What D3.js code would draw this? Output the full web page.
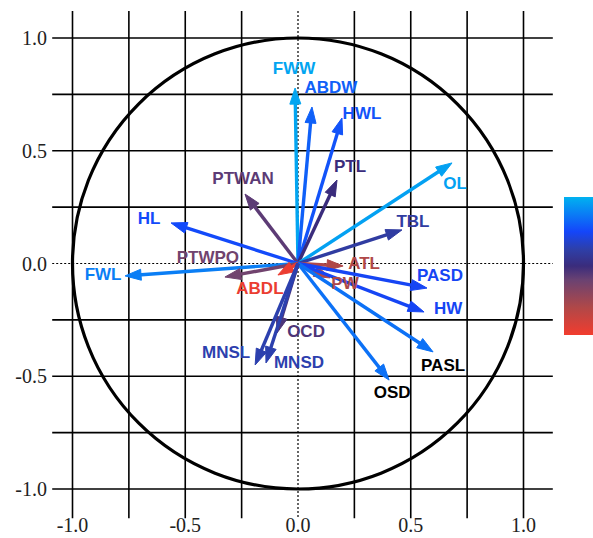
<!DOCTYPE html>
<html>
<head>
<meta charset="utf-8">
<script src="https://cdn.jsdelivr.net/npm/d3@7"></script>
<style>
  html, body { margin: 0; padding: 0; background: #fff; }
  svg { display: block; }
</style>
</head>
<body>
<svg id="chart" width="593" height="538"></svg>
<script>
// ---- data ----
const variables = ["FWW","ABDW","HWL","PTL","OL","TBL","PTWAN","HL","FWL","PTWPO",
                   "ABDL","ATL","PW","PASD","HW","PASL","OSD","OCD","MNSL","MNSD"];
const dim1 = [-0.013, 0.062, 0.195, 0.173, 0.683, 0.461, -0.235, -0.563, -0.767, -0.324,
              -0.089, 0.200, 0.142, 0.572, 0.559, 0.599, 0.404, -0.093, -0.190, -0.142];
const dim2 = [0.778, 0.694, 0.645, 0.370, 0.446, 0.149, 0.308, 0.180, -0.055, -0.060,
              -0.051, -0.011, -0.064, -0.109, -0.215, -0.392, -0.517, -0.308, -0.450, -0.441];
// colour value (position on the colour bar, 0 = bottom/red, 1 = top/cyan)
const colorValue = [0.97, 0.81, 0.78, 0.50, 0.96, 0.60, 0.43, 0.76, 0.88, 0.38,
                    0.02, 0.20, 0.21, 0.74, 0.74, 0.85, 0.85, 0.46, 0.63, 0.63];
const tickValues = [-1.0, -0.5, 0.0, 0.5, 1.0];
const tickLabels = ["-1.0", "-0.5", "0.0", "0.5", "1.0"];
const gridValues = [-1, -0.75, -0.5, -0.25, 0.25, 0.5, 0.75, 1];

// ---- layout (label offsets from arrow tip, in px) ----
const labelOffset = {
  FWW:[-1,-20], ABDW:[19,-20], HWL:[20,-5], PTL:[13,-14], OL:[3,20], TBL:[11,-9],
  PTWAN:[-2,-16], HL:[-22,-5], FWL:[-22,-2], PTWPO:[-17,-20], ABDL:[-18,13],
  ATL:[21,-3], PW:[15,5], PASD:[13,-13], HW:[24,-4], PASL:[10,13], OSD:[3,12],
  OCD:[29,-2], MNSL:[-29,-13], MNSD:[33,-1]
};
const blackLabels = new Set(["PASL","OSD"]);

const svg = d3.select("#chart");
const x = d3.scaleLinear().domain([-1, 1]).range([72.5, 523.5]);
const y = d3.scaleLinear().domain([-1, 1]).range([489, 38]);
const xExt = [-1.09, 1.13], yExt = [-1.13, 1.12];

const stopPos = [0, 0.2, 0.4, 0.5, 0.62, 0.75, 1];
const stops = ["#F23C2E", "#B04848", "#6A4272", "#3A2C7C", "#2E3FA8", "#1446FA", "#00B2F0"];
const color = d3.scaleLinear().domain(stopPos).range(stops)
  .interpolate(d3.interpolateRgb);

// ---- grid ----
const g = svg.append("g");
g.selectAll("line.v").data(gridValues).join("line")
  .attr("x1", d => x(d)).attr("x2", d => x(d))
  .attr("y1", y(yExt[1])).attr("y2", y(yExt[0]))
  .attr("stroke", "#000").attr("stroke-width", 1.6);
g.selectAll("line.h").data(gridValues).join("line")
  .attr("y1", d => y(d)).attr("y2", d => y(d))
  .attr("x1", x(xExt[0])).attr("x2", x(xExt[1]))
  .attr("stroke", "#000").attr("stroke-width", 1.6);
// zero lines dotted
g.append("line").attr("x1", x(0)).attr("x2", x(0))
  .attr("y1", y(yExt[1])).attr("y2", y(yExt[0]))
  .attr("stroke", "#000").attr("stroke-width", 1.2).attr("stroke-dasharray", "2,2");
g.append("line").attr("y1", y(0)).attr("y2", y(0))
  .attr("x1", x(xExt[0])).attr("x2", x(xExt[1]))
  .attr("stroke", "#000").attr("stroke-width", 1.2).attr("stroke-dasharray", "2,2");

// ---- circle ----
svg.append("circle").attr("cx", x(0)).attr("cy", y(0))
  .attr("r", x(1) - x(0)).attr("fill", "none")
  .attr("stroke", "#000").attr("stroke-width", 3.2);

// ---- tick labels ----
svg.selectAll("text.yt").data(tickValues).join("text")
  .attr("x", 47).attr("y", d => y(d) + 7)
  .attr("text-anchor", "end")
  .attr("font-family", "Liberation Serif, Times New Roman, serif")
  .attr("font-size", 20).attr("fill", "#222")
  .text((d, i) => tickLabels[i]);
svg.selectAll("text.xt").data(tickValues).join("text")
  .attr("x", d => x(d)).attr("y", 532)
  .attr("text-anchor", "middle")
  .attr("font-family", "Liberation Serif, Times New Roman, serif")
  .attr("font-size", 20).attr("fill", "#222")
  .text((d, i) => tickLabels[i]);

// ---- arrows ----
const data = variables.map((v, i) => ({ name: v, x: dim1[i], y: dim2[i], c: color(colorValue[i]) }));
const headLen = 16, headHalf = 5.5;
const ag = svg.append("g");
data.forEach(d => {
  const x0 = x(0), y0 = y(0), x1 = x(d.x), y1 = y(d.y);
  const dx = x1 - x0, dy = y1 - y0, L = Math.hypot(dx, dy);
  const ux = dx / L, uy = dy / L;
  const bx = x1 - ux * headLen, by = y1 - uy * headLen;
  ag.append("line").attr("x1", x0).attr("y1", y0)
    .attr("x2", x1 - ux * (headLen - 3)).attr("y2", y1 - uy * (headLen - 3))
    .attr("stroke", d.c).attr("stroke-width", 3.4);
  ag.append("path")
    .attr("d", `M${x1},${y1}L${bx - uy * headHalf},${by + ux * headHalf}L${bx + uy * headHalf},${by - ux * headHalf}Z`)
    .attr("fill", d.c).attr("stroke", d.c).attr("stroke-width", 1).attr("stroke-linejoin", "miter");
});

// ---- labels ----
svg.append("g").selectAll("text").data(data).join("text")
  .attr("x", d => x(d.x) + labelOffset[d.name][0])
  .attr("y", d => y(d.y) + labelOffset[d.name][1] + 6)
  .attr("text-anchor", "middle")
  .attr("font-family", "Liberation Sans, Arial, sans-serif")
  .attr("font-weight", "bold").attr("font-size", 17)
  .attr("fill", d => blackLabels.has(d.name) ? "#000" : d.c)
  .text(d => d.name);

// ---- colour bar ----
const defs = svg.append("defs");
const grad = defs.append("linearGradient").attr("id", "cbar")
  .attr("x1", 0).attr("y1", 1).attr("x2", 0).attr("y2", 0);
grad.selectAll("stop").data(stops).join("stop")
  .attr("offset", (d, i) => stopPos[i])
  .attr("stop-color", d => d);
svg.append("rect").attr("x", 564).attr("y", 197).attr("width", 30).attr("height", 138)
  .attr("fill", "url(#cbar)");
</script>
</body>
</html>
